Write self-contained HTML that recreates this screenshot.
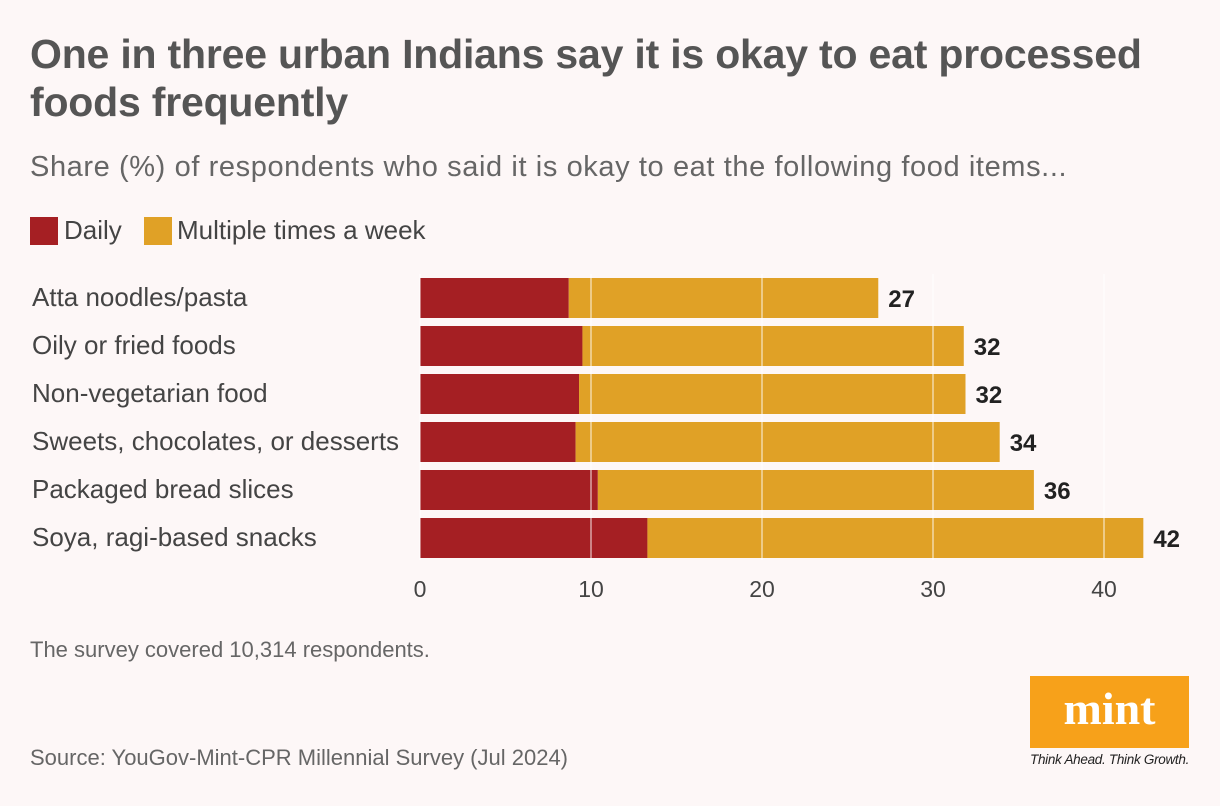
<!DOCTYPE html>
<html><head><meta charset="utf-8"><style>
body{margin:0;background:#fdf7f7;font-family:"Liberation Sans",sans-serif;}
#w{position:relative;width:1220px;height:806px;overflow:hidden;background:#fdf7f7;}
.t{position:absolute;color:#555;white-space:nowrap;}
</style></head><body>
<div id="w">
<div class="t" style="left:30px;top:30px;font-size:41px;font-weight:bold;line-height:48px;color:#555;letter-spacing:-0.2px;width:1180px;white-space:normal">One in three urban Indians say it is okay to eat processed foods frequently</div>
<div class="t" style="left:30px;top:151px;font-size:29px;color:#666;letter-spacing:0.6px">Share (%) of respondents who said it is okay to eat the following food items...</div>
<div style="position:absolute;left:30px;top:217px;width:28px;height:28px;background:#a51f23"></div>
<div class="t" style="left:64px;top:215px;font-size:26px;color:#444">Daily</div>
<div style="position:absolute;left:144px;top:217px;width:28px;height:28px;background:#e0a126"></div>
<div class="t" style="left:177px;top:215px;font-size:26px;color:#444">Multiple times a week</div>
<svg id="c" width="1220" height="620" style="position:absolute;left:0;top:0"></svg>
<div class="t" style="left:30px;top:637px;font-size:22px;color:#666">The survey covered 10,314 respondents.</div>
<div class="t" style="left:30px;top:745px;font-size:22px;color:#666">Source: YouGov-Mint-CPR Millennial Survey (Jul 2024)</div>
<div style="position:absolute;left:1030px;top:676px;width:159px;height:72px;background:#f7a11a;color:#fff;font-family:'Liberation Serif',serif;font-weight:bold;font-size:46px;text-align:center;line-height:66px">mint</div>
<div class="t" style="left:1030px;top:752px;font-size:13.5px;font-style:italic;color:#222;letter-spacing:-0.3px">Think Ahead. Think Growth.</div>
</div>
<script>
const categories=["Atta noodles/pasta","Oily or fried foods","Non-vegetarian food","Sweets, chocolates, or desserts","Packaged bread slices","Soya, ragi-based snacks"];
const daily=[8.7,9.5,9.3,9.1,10.4,13.3];
const weekly=[18.1,22.3,22.6,24.8,25.5,29.0];
const totals=[27,32,32,34,36,42];
const ticks=[0,10,20,30,40];
const NS="http://www.w3.org/2000/svg";
const svg=document.getElementById('c');
const x=v=>420+v*17.1;
const y=i=>278+i*48;
function mk(t,a){const e=document.createElementNS(NS,t);for(const k in a)e.setAttribute(k,a[k]);svg.appendChild(e);return e;}
categories.forEach((c,i)=>{
 const l=mk('text',{x:32,y:y(i)+28,'font-size':26,fill:'#444','font-family':'Liberation Sans, sans-serif'});l.textContent=c;
 
 
 const b1=mk('rect',{x:x(0),y:y(i),width:x(daily[i])-x(0),height:40,fill:'#a51f23'});
 
 
 const b2=mk('rect',{x:x(daily[i]),y:y(i),width:x(daily[i]+weekly[i])-x(daily[i]),height:40,fill:'#e0a126'});
 
 
 const v=mk('text',{x:x(daily[i]+weekly[i])+10,y:y(i)+29,'font-size':24,'font-weight':'bold',fill:'#222','font-family':'Liberation Sans, sans-serif'});v.textContent=totals[i];
 
 
});
ticks.forEach(t=>{
 const g=mk('line',{x1:x(t),x2:x(t),y1:274,y2:560,stroke:'#fff','stroke-opacity':0.45,'stroke-width':2});
 
 
 const tl=mk('text',{x:x(t),y:597,'font-size':23,fill:'#444','text-anchor':'middle','font-family':'Liberation Sans, sans-serif'});tl.textContent=t;
 
 
});
</script>
</body></html>
